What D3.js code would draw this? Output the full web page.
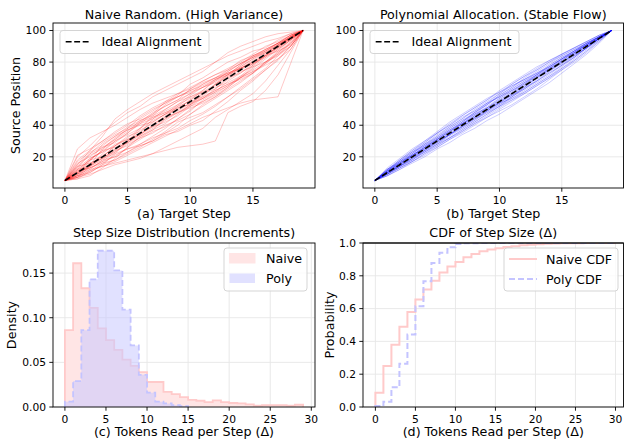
<!DOCTYPE html>
<meta charset="utf-8">
<style>
  body { margin: 0; background: #fff; }
  text { font-family: "DejaVu Sans", sans-serif; fill: #000; }
  .tick { font-size: 10.7px; }
  .lab { font-size: 12.7px; }
</style>
<svg width="624" height="439"></svg>
<script src="https://d3js.org/d3.v7.min.js"></script>
<script>
  // ---- data ----
  var steps = d3.range(0, 20);
  var ideal = [5, 10, 15, 20, 25, 30, 35, 40, 45, 50, 55, 60, 65, 70, 75, 80, 85, 90, 95, 100];

  var naivePaths = [
    [5,12,18,20,27,33,36,42,47,50,56,60,63,70,76,80,85,91,96,100],
    [5,8,10,15,22,30,38,45,48,52,55,58,66,72,78,84,88,92,95,100],
    [5,20,27,35,42,48,52,58,62,66,70,74,80,86,90,93,96,98,99,100],
    [5,7,9,12,15,17,19,22,26,30,34,38,45,50,55,60,68,78,88,100],
    [5,15,22,26,31,36,43,47,55,60,63,68,72,75,81,84,87,92,97,100],
    [5,10,14,22,28,31,35,39,42,46,52,57,62,66,70,76,82,88,94,100],
    [5,9,18,24,26,30,34,40,45,52,58,61,64,67,71,75,80,84,90,100],
    [5,25,32,36,40,45,50,54,57,60,64,68,72,76,80,85,90,93,97,100],
    [5,6,11,16,21,25,27,30,35,40,47,53,58,64,70,74,79,86,92,100],
    [5,14,16,19,25,29,35,44,50,55,58,62,69,73,76,80,84,89,95,100],
    [5,11,17,28,33,37,40,42,47,51,53,60,65,70,73,78,84,87,91,100],
    [5,8,13,17,20,26,31,36,39,44,49,56,61,68,73,79,84,90,96,100],
    [5,18,24,30,36,41,44,49,54,59,66,70,75,80,83,87,89,94,98,100],
    [5,12,14,18,20,23,28,33,38,44,50,55,60,65,70,74,78,82,88,100],
    [5,10,19,23,30,34,38,46,53,58,61,64,67,72,78,83,88,92,97,100],
    [5,7,12,18,24,27,32,37,41,47,53,58,62,66,69,73,80,85,90,100],
    [5,16,20,26,29,35,42,48,52,56,63,67,70,74,79,83,86,90,95,100],
    [5,9,15,21,25,29,33,37,44,48,53,57,63,69,74,77,80,86,93,100],
    [5,13,22,29,34,38,42,45,49,53,57,61,66,71,77,82,86,91,96,100],
    [5,11,13,16,18,22,26,31,36,42,45,48,53,58,64,70,76,84,92,100],
    [5,6,8,13,19,26,33,38,43,48,52,55,59,64,70,77,83,89,95,100],
    [5,21,25,30,35,40,46,51,55,58,62,66,70,75,79,83,87,92,97,100],
    [5,10,16,20,23,29,34,40,46,50,54,59,66,71,75,79,83,88,94,100],
    [5,8,11,14,17,21,25,29,33,37,41,45,48,51,54,56,57,58,79,100],
    [5,9,14,19,22,25,28,32,35,38,43,47,52,58,63,69,75,81,90,100],
    [5,14,21,25,31,38,45,50,54,58,62,65,69,72,76,80,85,89,94,100],
    [5,7,10,15,18,23,27,30,34,36,40,43,49,55,62,68,75,82,90,100],
    [5,12,18,24,30,35,41,47,52,56,60,64,68,72,76,81,86,91,96,100],
    [5,9,12,14,16,18,20,22,24,26,27,28,30,48,52,55,62,72,86,100],
    [5,15,24,33,44,50,55,60,64,68,72,76,80,84,87,90,93,95,98,100],
    [5,10,13,17,23,28,32,35,40,43,47,52,57,62,67,73,79,85,92,100],
    [5,8,15,25,32,37,41,44,48,51,56,62,68,74,79,84,88,92,96,100],
    [5,13,19,23,27,32,38,43,47,53,59,64,69,73,77,82,87,91,95,100],
    [5,7,14,20,27,31,34,39,44,49,54,57,61,65,71,78,84,90,95,100],
    [5,11,15,19,24,30,37,41,45,48,51,54,58,63,68,73,80,87,94,100],
    [5,17,23,27,33,39,43,46,50,55,60,66,70,73,76,79,84,90,96,100]
  ];

  var polyPaths = [
    [5,12,18,24,29,35,40,46,51,56,61,66,71,75,80,84,88,92,96,100],
    [5,9,13,17,22,26,31,35,40,45,50,55,60,65,70,76,81,87,93,100],
    [5,11,16,22,27,33,39,44,49,54,58,63,68,73,77,82,87,91,96,100],
    [5,8,12,16,20,25,29,34,38,43,47,52,57,62,67,73,79,85,92,100],
    [5,11,17,22,28,33,38,43,48,53,59,64,69,74,79,84,88,92,96,100],
    [5,10,14,19,23,28,33,38,43,49,54,59,63,68,73,78,83,89,94,100],
    [5,12,17,23,28,32,37,42,48,54,60,66,71,76,81,85,89,93,97,100],
    [5,9,14,18,23,27,32,36,41,45,49,53,58,63,69,75,81,87,94,100],
    [5,10,16,21,26,31,37,42,47,51,56,61,66,71,76,81,86,91,95,100],
    [5,11,15,20,25,29,34,39,44,49,55,60,65,70,75,80,84,89,95,100],
    [5,13,19,25,30,35,41,46,51,56,62,67,72,77,81,85,89,93,97,100],
    [5,8,13,17,21,26,31,36,41,46,51,56,61,66,71,76,82,88,94,100],
    [5,10,15,21,27,32,37,41,45,49,53,58,63,69,74,80,85,90,95,100],
    [5,11,16,20,24,29,34,40,46,52,57,62,66,71,76,81,86,91,96,100],
    [5,9,14,20,26,31,36,41,45,50,55,59,64,68,73,78,83,89,95,100],
    [5,12,18,23,27,31,36,41,47,53,58,63,68,72,76,80,85,90,95,100],
    [5,10,14,18,23,28,34,40,45,50,54,57,61,66,71,77,83,89,95,100],
    [5,11,17,23,29,35,40,45,49,54,58,62,67,72,77,82,87,92,96,100],
    [5,9,13,18,24,30,35,39,44,48,52,57,62,67,72,78,84,89,95,100],
    [5,10,16,22,28,34,39,44,50,55,60,65,69,73,78,83,87,92,96,100],
    [5,8,12,17,22,27,32,37,42,47,52,56,60,65,70,75,80,86,93,100],
    [5,12,16,21,25,30,35,41,46,51,56,61,67,72,77,82,86,91,95,100],
    [5,10,15,19,24,29,34,39,44,49,54,60,65,70,75,79,84,89,95,100],
    [5,11,18,24,30,36,42,47,52,57,61,65,69,73,77,82,86,91,96,100],
    [5,9,14,19,24,28,32,37,42,47,52,58,64,70,75,81,86,91,96,100],
    [5,10,14,19,25,31,36,41,46,50,54,59,64,70,76,82,87,92,96,100],
    [5,11,16,21,26,31,36,42,48,53,59,64,70,75,80,85,89,93,97,100],
    [5,10,15,20,25,30,34,38,43,48,53,58,63,68,74,79,85,90,95,100],
    [5,12,17,21,26,32,38,43,47,51,55,60,66,72,78,83,87,91,95,100],
    [5,9,15,21,26,30,34,39,45,51,57,62,67,71,75,80,85,90,95,100]
  ];

  // histogram, unit bins starting at 0
  var naiveDensity = [0.086,0.161,0.133,0.111,0.088,0.075,0.064,0.053,0.046,0.039,0.028,0.028,0.017,0.0145,0.011,
    0.008,0.007,0.0055,0.0074,0.0055,0.0045,0.004,0.003,0.0015,0.002,0.002,0.002,0.0015,0.0025];
  var polyDensity = [0.006,0.029,0.086,0.143,0.175,0.175,0.153,0.109,0.069,0.036,0.016,0.006,0.004,0.002,0.001];

  // CDF value at step sizes 0,1,2,...
  var naiveCdf = [0.087,0.25,0.38,0.49,0.58,0.655,0.716,0.77,0.82,0.856,0.884,0.913,0.933,0.95,0.96,
    0.968,0.975,0.98,0.986,0.99,0.993,0.995,0.997,0.998,0.9985,0.999,0.9993,0.9996,1,1,1];
  var polyCdf = [0.006,0.032,0.12,0.264,0.442,0.615,0.767,0.878,0.94,0.974,0.994,0.998,0.999,1,1,
    1,1,1,1,1,1,1,1,1,1,1,1,1,1,1,1];

  var stepTicks = [0, 5, 10, 15];
  var posTicks = [20, 40, 60, 80, 100];
  var tokTicks = [0, 5, 10, 15, 20, 25, 30];
  var densTicks = [0, 0.05, 0.10, 0.15];
  var probTicks = [0, 0.2, 0.4, 0.6, 0.8, 1.0];

  var naiveFill = "#ffe5e5", naiveEdge = "#ffcaca";
  var polyFill = "#c8c8ff", polyEdge = "#c4c4ff";

  var svg = d3.select("svg");

  // builds one axes box: grid, ticks, labels; returns scales and a group
  function makeAxes(o) {
    var x = d3.scaleLinear().domain(o.xd).range([o.l, o.r]);
    var y = d3.scaleLinear().domain(o.yd).range([o.b, o.t]);
    var g = svg.append("g");
    g.append("clipPath").attr("id", o.id)
      .append("rect").attr("x", o.l).attr("y", o.t).attr("width", o.r - o.l).attr("height", o.b - o.t);

    var grid = g.append("g").attr("stroke", "#e6e6e6").attr("stroke-width", 0.9);
    o.xt.forEach(function(v) {
      grid.append("line").attr("x1", x(v)).attr("x2", x(v)).attr("y1", o.t).attr("y2", o.b);
    });
    o.yt.forEach(function(v) {
      grid.append("line").attr("x1", o.l).attr("x2", o.r).attr("y1", y(v)).attr("y2", y(v));
    });

    var plot = g.append("g").attr("clip-path", "url(#" + o.id + ")");
    var top = g.append("g");

    top.append("rect").attr("x", o.l).attr("y", o.t).attr("width", o.r - o.l).attr("height", o.b - o.t)
      .attr("fill", "none").attr("stroke", "#000").attr("stroke-width", 0.9);

    o.xt.forEach(function(v) {
      top.append("line").attr("x1", x(v)).attr("x2", x(v)).attr("y1", o.b).attr("y2", o.b + 3.7)
        .attr("stroke", "#000").attr("stroke-width", 0.9);
      top.append("text").attr("class", "tick").attr("x", x(v)).attr("y", o.b + 15.5)
        .attr("text-anchor", "middle").text(o.xf ? o.xf(v) : v);
    });
    o.yt.forEach(function(v) {
      top.append("line").attr("x1", o.l - 3.7).attr("x2", o.l).attr("y1", y(v)).attr("y2", y(v))
        .attr("stroke", "#000").attr("stroke-width", 0.9);
      top.append("text").attr("class", "tick").attr("x", o.l - 7).attr("y", y(v)).attr("dy", "0.36em")
        .attr("text-anchor", "end").text(o.yf ? o.yf(v) : v);
    });

    top.append("text").attr("class", "lab").attr("x", (o.l + o.r) / 2).attr("y", o.titleY)
      .attr("text-anchor", "middle").text(o.title);
    top.append("text").attr("class", "lab").attr("x", (o.l + o.r) / 2).attr("y", o.xlabY)
      .attr("text-anchor", "middle").text(o.xlab);
    if (o.ylab) {
      top.append("text").attr("class", "lab")
        .attr("transform", "translate(" + o.ylabX + "," + (o.t + o.b) / 2 + ") rotate(-90)")
        .attr("text-anchor", "middle").text(o.ylab);
    }
    return { x: x, y: y, plot: plot, top: top };
  }

  function legendBox(parent, x, y, w, h) {
    parent.append("rect").attr("x", x).attr("y", y).attr("width", w).attr("height", h)
      .attr("rx", 3).attr("fill", "#fff").attr("fill-opacity", 0.8)
      .attr("stroke", "#d0d0d0").attr("stroke-width", 0.9);
  }

  // ---- top row: alignment paths ----
  function pathPanel(id, l, r, title, xlab, ylab, paths, color, alpha) {
    var a = makeAxes({
      id: id, l: l, r: r, t: 23, b: 188, xd: [-0.95, 19.95], yd: [0.25, 104.75],
      xt: stepTicks, yt: posTicks, title: title, titleY: 19, xlab: xlab, xlabY: 217.5,
      ylab: ylab, ylabX: 19.5
    });
    var line = d3.line().x(function(d, i) { return a.x(steps[i]); }).y(function(d) { return a.y(d); });
    a.plot.selectAll(".p").data(paths).enter().append("path")
      .attr("d", line).attr("fill", "none").attr("stroke", color)
      .attr("stroke-opacity", alpha).attr("stroke-width", 1);
    a.plot.append("path").attr("d", line(ideal)).attr("fill", "none")
      .attr("stroke", "#000").attr("stroke-width", 1.6).attr("stroke-dasharray", "5.9,2.6");

    legendBox(a.top, l + 7, 30.5, 149, 23);
    a.top.append("line").attr("x1", l + 12.7).attr("x2", l + 37).attr("y1", 41.8).attr("y2", 41.8)
      .attr("stroke", "#000").attr("stroke-width", 1.6).attr("stroke-dasharray", "5.9,2.6");
    a.top.append("text").attr("class", "lab").attr("x", l + 48.5).attr("y", 46.3).text("Ideal Alignment");
  }

  pathPanel("c1", 53, 315, "Naive Random. (High Variance)", "(a) Target Step", "Source Position", naivePaths, "#ff0000", 0.22);
  pathPanel("c2", 363, 623.5, "Polynomial Allocation. (Stable Flow)", "(b) Target Step", null, polyPaths, "#0000ff", 0.2);

  // ---- bottom left: histogram ----
  var h = makeAxes({
    id: "c3", l: 53, r: 315, t: 243, b: 407, xd: [-1.45, 30.45], yd: [0, 0.1837],
    xt: tokTicks, yt: densTicks, yf: d3.format(".2f"), title: "Step Size Distribution (Increments)",
    titleY: 237, xlab: "(c) Tokens Read per Step (\u0394)", xlabY: 436, ylab: "Density", ylabX: 16
  });

  function histPoints(dens) {
    var pts = [[0, 0]];
    dens.forEach(function(v, i) { pts.push([i, v]); });
    pts.push([dens.length, 0]);
    return pts;
  }
  var stepLine = d3.line().curve(d3.curveStepAfter)
    .x(function(d) { return h.x(d[0]); }).y(function(d) { return h.y(d[1]); });

  h.plot.append("path").attr("d", stepLine(histPoints(naiveDensity)))
    .attr("fill", naiveFill).attr("stroke", naiveEdge).attr("stroke-width", 1.8);
  h.plot.append("path").attr("d", stepLine(histPoints(polyDensity)))
    .attr("fill", polyFill).attr("fill-opacity", 0.55)
    .attr("stroke", polyEdge).attr("stroke-width", 1.8).attr("stroke-dasharray", "6,3");

  legendBox(h.top, 224, 248, 83, 43);
  h.top.append("rect").attr("x", 229.5).attr("y", 253.5).attr("width", 25.5).attr("height", 9.5)
    .attr("fill", naiveFill).attr("stroke", naiveFill).attr("stroke-width", 1);
  h.top.append("rect").attr("x", 229.5).attr("y", 273.5).attr("width", 25.5).attr("height", 9.5)
    .attr("fill", polyFill).attr("fill-opacity", 0.55).attr("stroke", "none");
  h.top.append("text").attr("class", "lab").attr("x", 266).attr("y", 263).text("Naive");
  h.top.append("text").attr("class", "lab").attr("x", 266).attr("y", 283).text("Poly");

  // ---- bottom right: CDF ----
  var c = makeAxes({
    id: "c4", l: 363, r: 623.5, t: 243, b: 407, xd: [-1.55, 31.0], yd: [0, 1],
    xt: tokTicks, yt: probTicks, yf: d3.format(".1f"), title: "CDF of Step Size (\u0394)",
    titleY: 237, xlab: "(d) Tokens Read per Step (\u0394)", xlabY: 436, ylab: "Probability", ylabX: 333.5
  });

  var cdfLine = d3.line().curve(d3.curveStepAfter)
    .x(function(d) { return c.x(d[0]); }).y(function(d) { return c.y(d[1]); });
  function cdfPoints(vals) {
    var pts = [[0, 0]];
    vals.forEach(function(v, i) { pts.push([i, v]); });
    return pts;
  }
  c.plot.append("path").attr("d", cdfLine(cdfPoints(naiveCdf))).attr("fill", "none")
    .attr("stroke", naiveEdge).attr("stroke-width", 2);
  c.plot.append("path").attr("d", cdfLine(cdfPoints(polyCdf))).attr("fill", "none")
    .attr("stroke", polyEdge).attr("stroke-width", 2).attr("stroke-dasharray", "6,3");
  // redraw top spine over the curves that sit at 1.0
  c.top.append("line").attr("x1", 363).attr("x2", 623.5).attr("y1", 243).attr("y2", 243)
    .attr("stroke", "#000").attr("stroke-width", 0.9);

  legendBox(c.top, 504, 248, 114, 43);
  c.top.append("line").attr("x1", 509).attr("x2", 537).attr("y1", 259).attr("y2", 259)
    .attr("stroke", naiveEdge).attr("stroke-width", 2);
  c.top.append("line").attr("x1", 509).attr("x2", 537).attr("y1", 279).attr("y2", 279)
    .attr("stroke", polyEdge).attr("stroke-width", 2).attr("stroke-dasharray", "6,3");
  c.top.append("text").attr("class", "lab").attr("x", 546).attr("y", 263.5).text("Naive CDF");
  c.top.append("text").attr("class", "lab").attr("x", 546).attr("y", 283.5).text("Poly CDF");
</script>
